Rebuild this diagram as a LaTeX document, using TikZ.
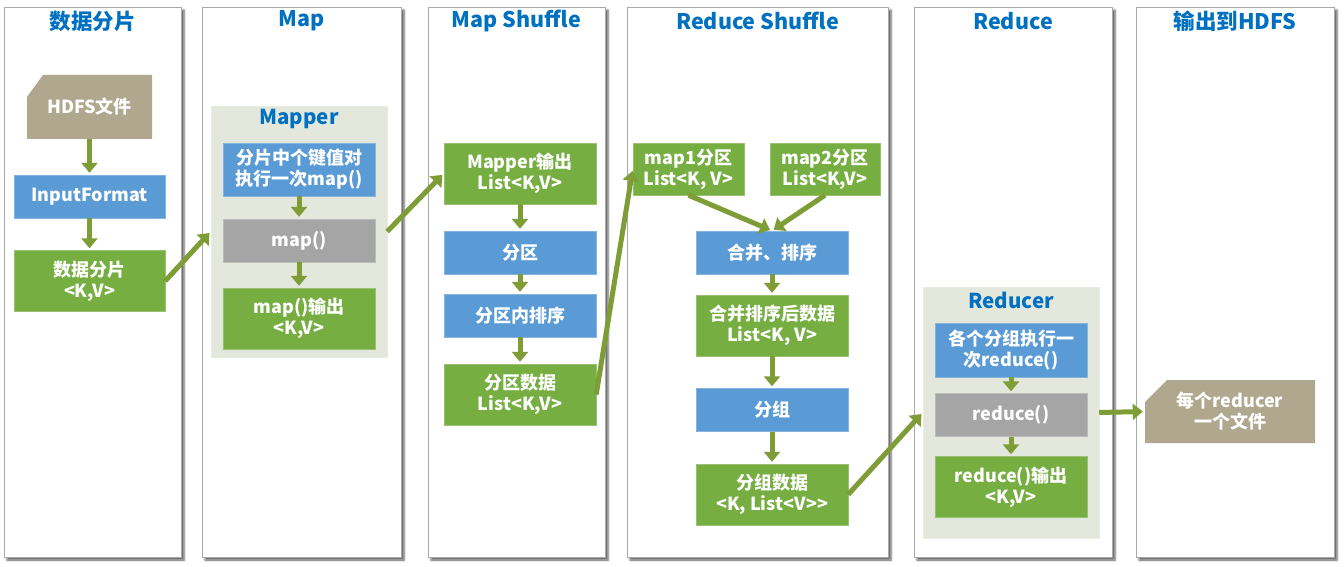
\documentclass[tikz,border=0pt]{standalone}
\usepackage{fontspec}
\setmainfont{Noto Sans CJK SC}
\usetikzlibrary{positioning, arrows.meta, shadows.blur}
\definecolor{headblue}{RGB}{0,112,192}
\definecolor{boxblue}{RGB}{91,155,213}
\definecolor{boxgreen}{RGB}{118,174,66}
\definecolor{boxgray}{RGB}{165,165,165}
\definecolor{boxtan}{RGB}{175,167,142}
\definecolor{holder}{RGB}{228,231,220}
\definecolor{flow}{RGB}{126,157,54}
\definecolor{frame}{RGB}{170,170,170}
\tikzset{>={Triangle[width=16pt,length=10pt]}}

\begin{document}
\begin{tikzpicture}[x=1pt,y=-1pt,
    panel/.style={draw=frame, fill=white, line width=0.8pt, minimum height=550pt,
        blur shadow={shadow xshift=3pt, shadow yshift=-3pt, shadow opacity=65}},
    head/.style={text=headblue, font=\bfseries\fontsize{21.5}{25}\selectfont},
    holdhead/.style={text=headblue, font=\bfseries\fontsize{20.5}{24}\selectfont},
    holdbox/.style={fill=holder, draw=holder!80!white, minimum width=176pt, minimum height=251pt},
    box/.style={minimum width=152pt, inner sep=0pt, text=white, align=center,
        font=\bfseries\fontsize{18}{21}\selectfont},
    bluebox/.style={box, fill=boxblue, draw=boxblue!75!white, minimum height=43pt},
    graybox/.style={box, fill=boxgray, draw=boxgray!75!white, minimum height=43pt},
    greenbox/.style={box, fill=boxgreen, draw=boxgreen!75!white, minimum height=61pt},
    tanbox/.style={box, path picture={
        \fill[boxtan] ([xshift=#1]path picture bounding box.north west)
            -- (path picture bounding box.north east) -- (path picture bounding box.south east)
            -- (path picture bounding box.south west) -- ([yshift=-22pt]path picture bounding box.north west) -- cycle;}},
    flowarrow/.style={->, draw=flow, line width=5pt, shorten >=2pt}]
    \useasboundingbox (0,0) rectangle (1344,567);

    % columns
    \node[panel, minimum width=177pt] (p1) at (92.5,282) {};
    \node[panel, minimum width=199pt] (p2) at (301.5,282) {};
    \node[panel, minimum width=177pt] (p3) at (516.5,282) {};
    \node[panel, minimum width=261pt] (p4) at (757.5,282) {};
    \node[panel, minimum width=198pt] (p5) at (1013,282) {};
    \node[panel, minimum width=198pt] (p6) at (1235,282) {};
    \node[head] (t1) at (92.5,21) {数据分片};
    \node[head] (t2) at (301.5,21) {Map};
    \node[head] (t3) at (516.5,21) {Map Shuffle};
    \node[head] (t4) at (757.5,21) {Reduce Shuffle};
    \node[head] (t5) at (1013,21) {Reduce};
    \node[head] (t6) at (1235,21) {输出到HDFS};

    % split
    \node[tanbox=16pt, minimum width=125pt, minimum height=64pt] (hdfs) at (89.5,107) {HDFS文件};
    \node[bluebox, minimum width=151pt] (inputformat) at (89.5,196.5) {InputFormat};
    \node[greenbox, minimum width=151pt] (split) at (89.5,281) {数据分片\\<K,V>};

    % map
    \node[holdbox] (mapper) at (299,231.5) {};
    \node[holdhead] (mappertitle) at (299,119) {Mapper};
    \node[bluebox, minimum height=53pt] (eachmap) at (299,169.5) {分片中个键值对\\执行一次map()};
    \node[graybox] (map) at (299,240.5) {map()};
    \node[greenbox] (mapout) at (299,318.5) {map()输出\\<K,V>};

    % map shuffle
    \node[greenbox] (mapperout) at (520,173.5) {Mapper输出\\List<K,V>};
    \node[bluebox] (partition) at (520,252.5) {分区};
    \node[bluebox] (partsort) at (520,315.5) {分区内排序};
    \node[greenbox] (partdata) at (520,394.5) {分区数据\\List<K,V>};

    % reduce shuffle
    \node[greenbox, minimum width=111pt, minimum height=52pt] (mapone) at (688.5,169) {map1分区\\List<K, V>};
    \node[greenbox, minimum width=110pt, minimum height=52pt] (maptwo) at (825,169) {map2分区\\List<K,V>};
    \node[bluebox] (merge) at (772,252.5) {合并、排序};
    \node[greenbox] (mergedata) at (772,325.5) {合并排序后数据\\List<K, V>};
    \node[bluebox] (group) at (772,410) {分组};
    \node[greenbox] (groupdata) at (772,494.5) {分组数据\\<K, List<V>{}>};

    % reduce
    \node[holdbox] (reducer) at (1011,412.5) {};
    \node[holdhead] (reducertitle) at (1011,300) {Reducer};
    \node[bluebox, minimum height=54pt] (eachreduce) at (1011,350) {各个分组执行一\\次reduce()};
    \node[graybox] (reduce) at (1011,415) {reduce()};
    \node[greenbox] (reduceout) at (1011,487) {reduce()输出\\<K,V>};

    % output
    \node[tanbox=22pt, minimum width=170pt, minimum height=63pt] (outfile) at (1230,411.5) {每个reducer\\一个文件};

    \path[every edge/.style={flowarrow}]
        (hdfs)        edge (inputformat)
        (inputformat) edge (split)
        (split.east)  edge (mapper.west)
        (eachmap)     edge (map)
        (map)         edge (mapout)
        (mapper.east) edge (mapperout.west)
        (mapperout)   edge (partition)
        (partition)   edge (partsort)
        (partsort)    edge (partdata)
        (partdata.east) edge (mapone.west)
        (mapone.south) edge (merge.north)
        (maptwo.south) edge (merge.north)
        (merge)       edge (mergedata)
        (mergedata)   edge (group)
        (group)       edge (groupdata)
        (groupdata.east) edge (reducer.west)
        (eachreduce)  edge (reduce)
        (reduce)      edge (reduceout)
        (reducer.east) edge (outfile.west)
    ;
\end{tikzpicture}
\end{document}
